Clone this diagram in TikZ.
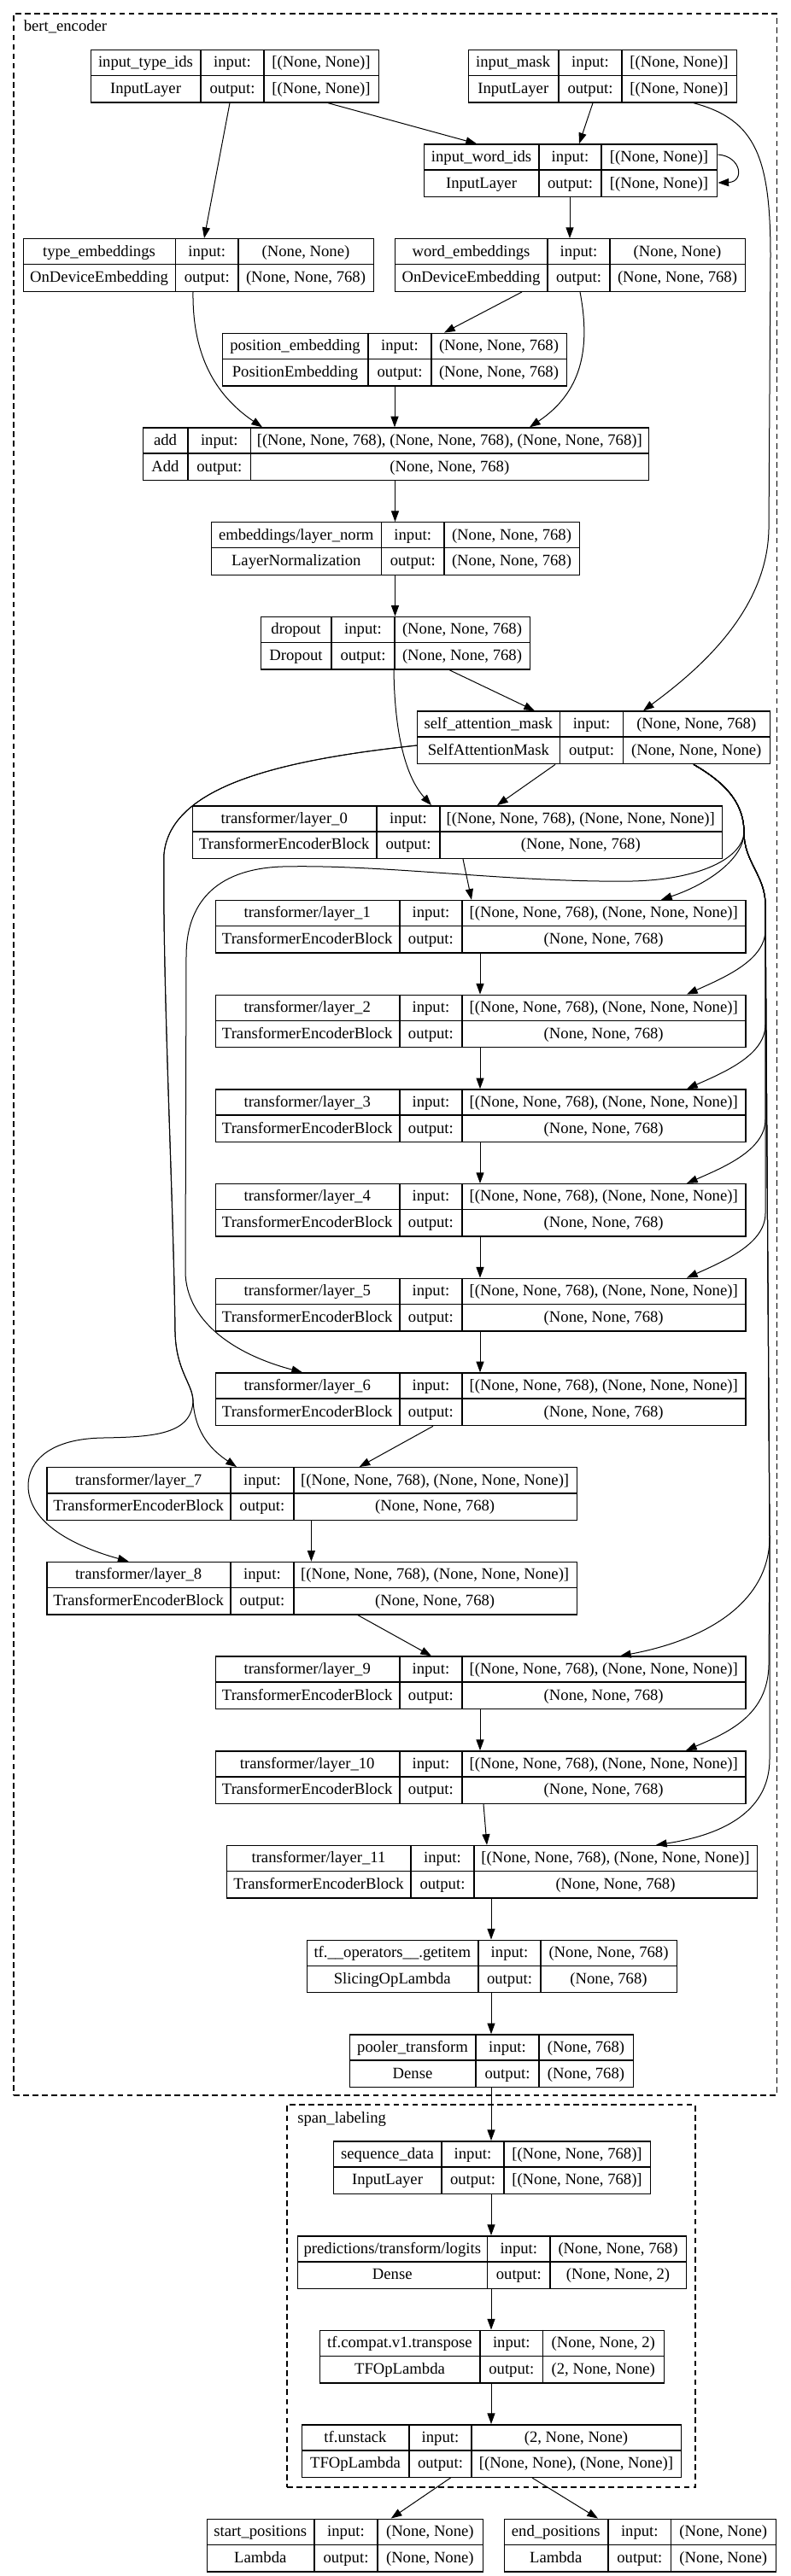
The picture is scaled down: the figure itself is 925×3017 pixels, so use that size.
\documentclass[tikz,border=0pt]{standalone}
\usepackage{fontspec}
\setmainfont{Liberation Serif}
\usetikzlibrary{arrows.meta,fit}
\tikzset{
  kb/.style={draw=black, rectangle, inner sep=0pt, minimum height=46.125pt, line width=1.1pt},
  kbl/.style={draw=black, line width=1.1pt},
  kt/.style={anchor=base, inner sep=0pt, font=\fontsize{14}{16}\selectfont},
  e/.style={draw=black, line width=0.75pt, -{Triangle[length=9.5pt,width=6.8pt]}},
  clus/.style={draw=black, line width=0.9pt, dash pattern=on 5pt off 3.3pt, inner sep=0pt}
}
\newcommand\kbox[9]{%
  \pgfmathsetmacro\kbW{(#4-#2)*0.75}%
  \pgfmathsetmacro\kbBot{#3+61.5}%
  \pgfmathsetmacro\kbMid{#3+30.75}%
  \pgfmathsetmacro\kbYa{#3+21}%
  \pgfmathsetmacro\kbYb{#3+51.8}%
  \pgfmathsetmacro\kbXa{(#2+#5)/2}%
  \pgfmathsetmacro\kbXb{(#5+#6)/2}%
  \pgfmathsetmacro\kbXc{(#6+#4)/2}%
  \def\kbName{#1}%
  \node[kb, minimum width=\kbW pt, anchor=north west] (#1) at (#2,#3) {};%
  \draw[kbl] (#5,#3) -- (#5,\kbBot) (#6,#3) -- (#6,\kbBot) (#2,\kbMid) -- (#4,\kbMid);%
  \node[kt] (#1n) at (\kbXa,\kbYa) {#7};%
  \node[kt] (#1c) at (\kbXa,\kbYb) {#8};%
  \node[kt] (#1i) at (\kbXb,\kbYa) {input:};%
  \node[kt] (#1o) at (\kbXb,\kbYb) {output:};%
  \node[kt] (#1vi) at (\kbXc,\kbYa) {#9};%
  \kboxout}
\newcommand\kboxout[1]{\node[kt] (\kbName vo) at (\kbXc,\kbYb) {#1};}
\begin{document}
\begin{tikzpicture}[x=0.75pt,y=-0.75pt]
\fill[white] (0,0) rectangle (925,3017);
\useasboundingbox (0,0) rectangle (925,3017);

% clusters
\node[clus, fit={(16,16) (909.5,2454)}] (bert) {};
\node[kt, anchor=base west] (bertlbl) at (27.5,36) {bert\_encoder};
\node[clus, fit={(336,2465) (814,2913)}] (span) {};
\node[kt, anchor=base west] (spanlbl) at (348,2486) {span\_labeling};

% boxes
\kbox{itid}{106}{57.7}{443}{235}{309}{input\_type\_ids}{InputLayer}{[(None, None)]}{[(None, None)]}
\kbox{imask}{547.5}{57.7}{862}{654}{728}{input\_mask}{InputLayer}{[(None, None)]}{[(None, None)]}
\kbox{iwid}{496}{168.3}{839}{631}{704}{input\_word\_ids}{InputLayer}{[(None, None)]}{[(None, None)]}
\kbox{temb}{26.6}{279}{437}{205.5}{279}{type\_embeddings}{OnDeviceEmbedding}{(None, None)}{(None, None, 768)}
\kbox{wemb}{462}{279}{872}{641}{714}{word\_embeddings}{OnDeviceEmbedding}{(None, None)}{(None, None, 768)}
\kbox{pemb}{260}{389.6}{663}{431}{505}{position\_embedding}{PositionEmbedding}{(None, None, 768)}{(None, None, 768)}
\kbox{add}{167}{500.3}{759}{220}{293.6}{add}{Add}{[(None, None, 768), (None, None, 768), (None, None, 768)]}{(None, None, 768)}
\kbox{lnorm}{247}{611}{678}{446.5}{520}{embeddings/layer\_norm}{LayerNormalization}{(None, None, 768)}{(None, None, 768)}
\kbox{drop}{305}{721.7}{620}{388}{462}{dropout}{Dropout}{(None, None, 768)}{(None, None, 768)}
\kbox{sam}{488}{832.4}{901}{655.6}{729.5}{self\_attention\_mask}{SelfAttentionMask}{(None, None, 768)}{(None, None, None)}
\kbox{l0}{224.5}{943.1}{844.6}{441}{515}{transformer/layer\_0}{TransformerEncoderBlock}{[(None, None, 768), (None, None, None)]}{(None, None, 768)}
\kbox{l1}{251.6}{1053.8}{872.4}{467.8}{541}{transformer/layer\_1}{TransformerEncoderBlock}{[(None, None, 768), (None, None, None)]}{(None, None, 768)}
\kbox{l2}{251.6}{1164.5}{872.4}{467.8}{541}{transformer/layer\_2}{TransformerEncoderBlock}{[(None, None, 768), (None, None, None)]}{(None, None, 768)}
\kbox{l3}{251.6}{1275.2}{872.4}{467.8}{541}{transformer/layer\_3}{TransformerEncoderBlock}{[(None, None, 768), (None, None, None)]}{(None, None, 768)}
\kbox{l4}{251.6}{1385.9}{872.4}{467.8}{541}{transformer/layer\_4}{TransformerEncoderBlock}{[(None, None, 768), (None, None, None)]}{(None, None, 768)}
\kbox{l5}{251.6}{1496.6}{872.4}{467.8}{541}{transformer/layer\_5}{TransformerEncoderBlock}{[(None, None, 768), (None, None, None)]}{(None, None, 768)}
\kbox{l6}{251.6}{1607.3}{872.4}{467.8}{541}{transformer/layer\_6}{TransformerEncoderBlock}{[(None, None, 768), (None, None, None)]}{(None, None, 768)}
\kbox{l7}{54.3}{1718}{674.5}{270}{343.8}{transformer/layer\_7}{TransformerEncoderBlock}{[(None, None, 768), (None, None, None)]}{(None, None, 768)}
\kbox{l8}{54.3}{1828.7}{674.5}{270}{343.8}{transformer/layer\_8}{TransformerEncoderBlock}{[(None, None, 768), (None, None, None)]}{(None, None, 768)}
\kbox{l9}{251.6}{1939.4}{872.4}{467.8}{541}{transformer/layer\_9}{TransformerEncoderBlock}{[(None, None, 768), (None, None, None)]}{(None, None, 768)}
\kbox{l10}{251.6}{2050.1}{872.4}{467.8}{541}{transformer/layer\_10}{TransformerEncoderBlock}{[(None, None, 768), (None, None, None)]}{(None, None, 768)}
\kbox{l11}{265}{2160.8}{886}{481}{555}{transformer/layer\_11}{TransformerEncoderBlock}{[(None, None, 768), (None, None, None)]}{(None, None, 768)}
\kbox{getitem}{358.5}{2271.5}{792}{560}{633}{tf.\_\_operators\_\_.getitem}{SlicingOpLambda}{(None, None, 768)}{(None, 768)}
\kbox{pooler}{409}{2382.2}{741}{557}{631}{pooler\_transform}{Dense}{(None, 768)}{(None, 768)}
\kbox{seq}{390}{2507}{761}{517}{590}{sequence\_data}{InputLayer}{[(None, None, 768)]}{[(None, None, 768)]}
\kbox{logits}{348}{2618}{803}{570.6}{644}{predictions/transform/logits}{Dense}{(None, None, 768)}{(None, None, 2)}
\kbox{transp}{374}{2728.5}{777}{562}{635.6}{tf.compat.v1.transpose}{TFOpLambda}{(None, None, 2)}{(2, None, None)}
\kbox{unstack}{353}{2839}{797}{479}{552}{tf.unstack}{TFOpLambda}{(2, None, None)}{[(None, None), (None, None)]}
\kbox{startp}{241.6}{2949.5}{564.7}{368}{442}{start\_positions}{Lambda}{(None, None)}{(None, None)}
\kbox{endp}{589.5}{2949.5}{908}{712}{785.6}{end\_positions}{Lambda}{(None, None)}{(None, None)}

% input edges
\draw[e] (itid.south -| 269,0) -- (temb.north -| 239,0);
\draw[e] (itid.south -| 384,0) -- (iwid.north -| 558,0);
\draw[e] (imask.south -| 694,0) -- (iwid.north -| 678,0);
\draw[e] (imask.south -| 812,0) .. controls (885,140) and (902,185) .. (902,300) -- (900,620) .. controls (898,720) and (810,790) .. (sam.north -| 753,0);
\draw[e] (iwid.east |- 0,181) .. controls (868,183) and (872,213) .. (iwid.east |- 0,214);
\draw[e] (iwid.south -| 667,0) -- (wemb.north -| 667,0);
\draw[e] (temb.south -| 226,0) .. controls (225,420) and (255,465) .. (add.north -| 307,0);
\draw[e] (wemb.south -| 611,0) -- (pemb.north -| 520,0);
\draw[e] (wemb.south -| 679,0) .. controls (692,410) and (680,460) .. (add.north -| 620,0);
\draw[e] (pemb.south -| 462,0) -- (add.north -| 462,0);
\draw[e] (add.south -| 462.5,0) -- (lnorm.north -| 462.5,0);
\draw[e] (lnorm.south -| 462.5,0) -- (drop.north -| 462.5,0);
\draw[e] (drop.south -| 526,0) -- (sam.north -| 626,0);
\draw[e] (drop.south -| 461,0) .. controls (462,860) and (475,910) .. (l0.north -| 505,0);

% self attention mask edges
\draw[e] (sam.south -| 650,0) -- (l0.north -| 582,0);
\draw[e] (sam.south -| 812,0) .. controls (855,920) and (871,945) .. (871,975) .. controls (871,1005) and (830,1035) .. (l1.north -| 774,0);
\draw[e] (sam.south -| 812,0) .. controls (855,920) and (871,945) .. (871,975) .. controls (871,1010) and (896,1025) .. (896,1060) -- (896,1089) .. controls (896,1124) and (850,1144) .. (l2.north -| 804,0);
\draw[e] (sam.south -| 812,0) .. controls (855,920) and (871,945) .. (871,975) .. controls (871,1010) and (896,1025) .. (896,1060) -- (896,1200) .. controls (896,1235) and (850,1255) .. (l3.north -| 804,0);
\draw[e] (sam.south -| 812,0) .. controls (855,920) and (871,945) .. (871,975) .. controls (871,1010) and (896,1025) .. (896,1060) -- (896,1311) .. controls (896,1346) and (850,1366) .. (l4.north -| 804,0);
\draw[e] (sam.south -| 812,0) .. controls (855,920) and (871,945) .. (871,975) .. controls (871,1010) and (896,1025) .. (896,1060) -- (896,1421) .. controls (896,1456) and (850,1476) .. (l5.north -| 804,0);
\draw[e] (sam.south -| 812,0) .. controls (855,920) and (871,945) .. (871,975) .. controls (869,1005) and (820,1030) .. (740,1032) .. controls (600,1034) and (450,1012) .. (330,1015) .. controls (250,1018) and (218,1060) .. (218,1120) -- (217,1490) .. controls (218,1545) and (270,1585) .. (l6.north -| 354,0);
\draw[e] (sam.west |- 0,873) .. controls (330,890) and (200,920) .. (192,1000) .. controls (190,1150) and (203,1400) .. (205,1560) .. controls (206,1605) and (225,1620) .. (226,1640) .. controls (228,1680) and (250,1700) .. (l7.north -| 277,0);
\draw[e] (sam.west |- 0,873) .. controls (330,890) and (200,920) .. (192,1000) .. controls (190,1150) and (203,1400) .. (205,1560) .. controls (206,1605) and (225,1620) .. (226,1640) .. controls (225,1680) and (180,1683) .. (120,1684) .. controls (60,1685) and (33,1710) .. (33,1740) .. controls (33,1785) and (90,1812) .. (l8.north -| 150.6,0);
\draw[e] (sam.south -| 812,0) .. controls (855,920) and (871,945) .. (871,975) .. controls (871,1010) and (896,1025) .. (896,1060) -- (901,1800) .. controls (901,1875) and (830,1920) .. (l9.north -| 726,0);
\draw[e] (sam.south -| 812,0) .. controls (855,920) and (871,945) .. (871,975) .. controls (871,1010) and (896,1025) .. (896,1060) -- (901,1800) -- (900,1950) .. controls (899,2010) and (850,2030) .. (l10.north -| 803,0);
\draw[e] (sam.south -| 812,0) .. controls (855,920) and (871,945) .. (871,975) .. controls (871,1010) and (896,1025) .. (896,1060) -- (901,1800) -- (901,2060) .. controls (901,2125) and (840,2150) .. (l11.north -| 768,0);

% transformer chain
\draw[e] (l0.south -| 542,0) -- (l1.north -| 552,0);
\draw[e] (l1.south -| 562,0) -- (l2.north -| 562,0);
\draw[e] (l2.south -| 562,0) -- (l3.north -| 562,0);
\draw[e] (l3.south -| 562,0) -- (l4.north -| 562,0);
\draw[e] (l4.south -| 562,0) -- (l5.north -| 562,0);
\draw[e] (l5.south -| 562,0) -- (l6.north -| 562,0);
\draw[e] (l6.south -| 507,0) -- (l7.north -| 420.6,0);
\draw[e] (l7.south -| 364.4,0) -- (l8.north -| 364.4,0);
\draw[e] (l8.south -| 419,0) -- (l9.north -| 505,0);
\draw[e] (l9.south -| 562,0) -- (l10.north -| 562,0);
\draw[e] (l10.south -| 566,0) -- (l11.north -| 570,0);
\draw[e] (l11.south -| 575,0) -- (getitem.north -| 575,0);
\draw[e] (getitem.south -| 575,0) -- (pooler.north -| 575,0);
\draw[e] (pooler.south -| 575,0) -- (seq.north -| 575,0);
\draw[e] (seq.south -| 575,0) -- (logits.north -| 575,0);
\draw[e] (logits.south -| 575,0) -- (transp.north -| 575,0);
\draw[e] (transp.south -| 575,0) -- (unstack.north -| 575,0);
\draw[e] (unstack.south -| 527.5,0) -- (startp.north -| 457.8,0);
\draw[e] (unstack.south -| 623,0) -- (endp.north -| 700,0);
\end{tikzpicture}
\end{document}
